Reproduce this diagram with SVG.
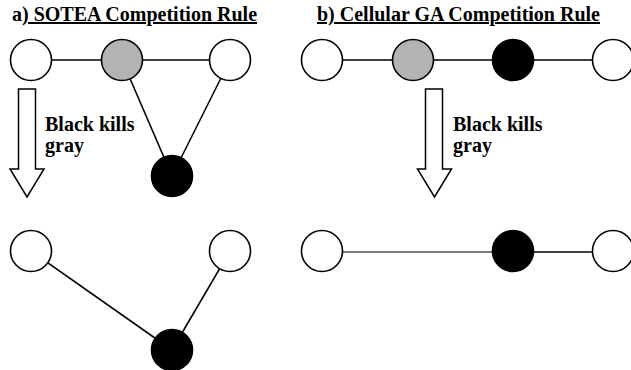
<svg xmlns="http://www.w3.org/2000/svg" width="631" height="370" viewBox="0 0 631 370">
<style>
.t{font-family:'Liberation Serif','DejaVu Serif',serif;font-weight:bold;font-size:20px;fill:#000}
.u{text-decoration:underline}
.n{stroke:#000;stroke-width:1.6}
.w{fill:#fff}
.g{fill:#b3b3b3}
.k{fill:#000}
.e{stroke:#000;stroke-width:1.6;fill:none}
.ar{fill:#fff;stroke:#000;stroke-width:1.5}
</style>
<rect width="631" height="370" fill="#fff"/>
<text class="t" x="12" y="21">a<tspan class="u">) SOTEA Competition Rule</tspan></text>
<text class="t" x="317" y="21"><tspan class="u">b) Cellular GA Competition Rule</tspan></text>
<g id="connectors">
<line class="e" x1="31" y1="60" x2="230" y2="60"/>
<line class="e" x1="122" y1="60" x2="172" y2="176"/>
<line class="e" x1="230" y1="60" x2="172" y2="176"/>
<line class="e" x1="31" y1="251" x2="172" y2="350"/>
<line class="e" x1="230" y1="251" x2="172" y2="350"/>
<line class="e" x1="322" y1="60" x2="613" y2="60"/>
<line x1="322" y1="252" x2="513" y2="252" stroke="#000" stroke-width="1"/>
<line class="e" x1="513" y1="252" x2="613" y2="252" stroke-width="2"/>
</g>
<g id="arrow-a"><polygon class="ar" points="18.5,89 35.5,89 35.5,169 44,169 27,197 10,169 18.5,169"/></g>
<g id="arrow-b"><polygon class="ar" points="425.5,89 442.5,89 442.5,169 451.5,169 434.5,197 417.5,169 425.5,169"/></g>
<text class="t" x="45" y="131">Black kills</text>
<text class="t" x="45" y="152">gray</text>
<text class="t" x="453" y="131">Black kills</text>
<text class="t" x="453" y="152">gray</text>
<g id="a-top-1"><circle class="n w" cx="31" cy="60" r="20.5"/></g>
<g id="a-top-gray"><circle class="n g" cx="122" cy="60" r="20.5"/></g>
<g id="a-top-3"><circle class="n w" cx="230" cy="60" r="20.5"/></g>
<g id="a-top-black"><circle class="n k" cx="172" cy="176" r="20.5"/></g>
<g id="a-bot-1"><circle class="n w" cx="31" cy="251" r="20.5"/></g>
<g id="a-bot-2"><circle class="n w" cx="230" cy="251" r="20.5"/></g>
<g id="a-bot-black"><circle class="n k" cx="172" cy="350" r="20.5"/></g>
<g id="b-top-1"><circle class="n w" cx="322" cy="60" r="20.5"/></g>
<g id="b-top-gray"><circle class="n g" cx="413" cy="60" r="20.5"/></g>
<g id="b-top-black"><circle class="n k" cx="513" cy="60" r="20.5"/></g>
<g id="b-top-4"><circle class="n w" cx="613" cy="60" r="20.5"/></g>
<g id="b-bot-1"><circle class="n w" cx="322" cy="251" r="20.5"/></g>
<g id="b-bot-black"><circle class="n k" cx="513" cy="251" r="20.5"/></g>
<g id="b-bot-4"><circle class="n w" cx="613" cy="251" r="20.5"/></g>
</svg>
